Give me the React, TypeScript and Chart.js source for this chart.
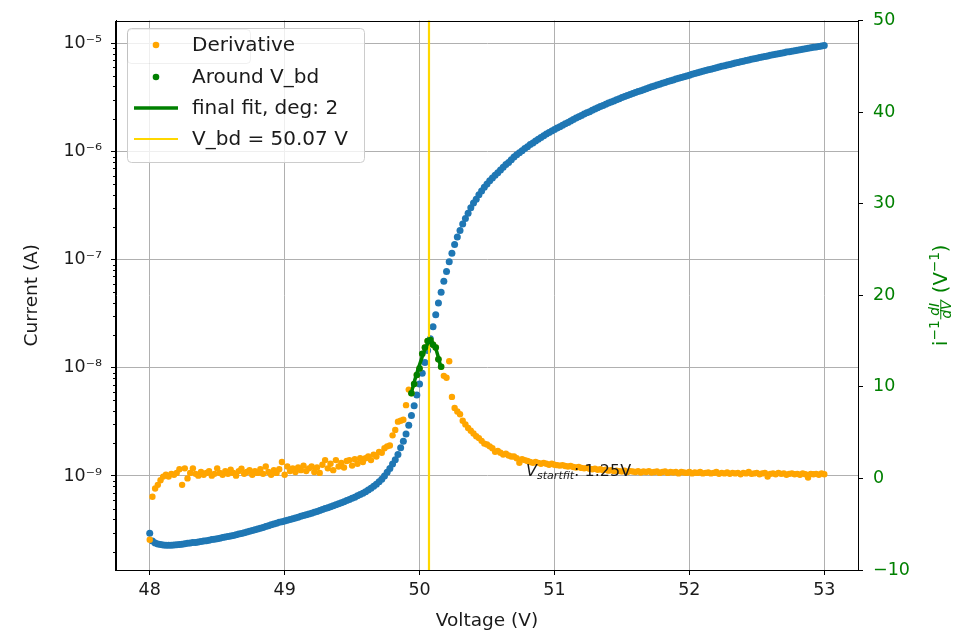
import React, { useEffect, useRef } from 'react';
import { Chart, registerables } from 'chart.js';

Chart.register(...registerables);

// Bias sweep (V), 0.02 V steps
const VOLTAGE = [
  48.00, 48.02, 48.04, 48.06, 48.08, 48.10, 48.12, 48.14, 48.16, 48.18,
  48.20, 48.22, 48.24, 48.26, 48.28, 48.30, 48.32, 48.34, 48.36, 48.38,
  48.40, 48.42, 48.44, 48.46, 48.48, 48.50, 48.52, 48.54, 48.56, 48.58,
  48.60, 48.62, 48.64, 48.66, 48.68, 48.70, 48.72, 48.74, 48.76, 48.78,
  48.80, 48.82, 48.84, 48.86, 48.88, 48.90, 48.92, 48.94, 48.96, 48.98,
  49.00, 49.02, 49.04, 49.06, 49.08, 49.10, 49.12, 49.14, 49.16, 49.18,
  49.20, 49.22, 49.24, 49.26, 49.28, 49.30, 49.32, 49.34, 49.36, 49.38,
  49.40, 49.42, 49.44, 49.46, 49.48, 49.50, 49.52, 49.54, 49.56, 49.58,
  49.60, 49.62, 49.64, 49.66, 49.68, 49.70, 49.72, 49.74, 49.76, 49.78,
  49.80, 49.82, 49.84, 49.86, 49.88, 49.90, 49.92, 49.94, 49.96, 49.98,
  50.00, 50.02, 50.04, 50.06, 50.08, 50.10, 50.12, 50.14, 50.16, 50.18,
  50.20, 50.22, 50.24, 50.26, 50.28, 50.30, 50.32, 50.34, 50.36, 50.38,
  50.40, 50.42, 50.44, 50.46, 50.48, 50.50, 50.52, 50.54, 50.56, 50.58,
  50.60, 50.62, 50.64, 50.66, 50.68, 50.70, 50.72, 50.74, 50.76, 50.78,
  50.80, 50.82, 50.84, 50.86, 50.88, 50.90, 50.92, 50.94, 50.96, 50.98,
  51.00, 51.02, 51.04, 51.06, 51.08, 51.10, 51.12, 51.14, 51.16, 51.18,
  51.20, 51.22, 51.24, 51.26, 51.28, 51.30, 51.32, 51.34, 51.36, 51.38,
  51.40, 51.42, 51.44, 51.46, 51.48, 51.50, 51.52, 51.54, 51.56, 51.58,
  51.60, 51.62, 51.64, 51.66, 51.68, 51.70, 51.72, 51.74, 51.76, 51.78,
  51.80, 51.82, 51.84, 51.86, 51.88, 51.90, 51.92, 51.94, 51.96, 51.98,
  52.00, 52.02, 52.04, 52.06, 52.08, 52.10, 52.12, 52.14, 52.16, 52.18,
  52.20, 52.22, 52.24, 52.26, 52.28, 52.30, 52.32, 52.34, 52.36, 52.38,
  52.40, 52.42, 52.44, 52.46, 52.48, 52.50, 52.52, 52.54, 52.56, 52.58,
  52.60, 52.62, 52.64, 52.66, 52.68, 52.70, 52.72, 52.74, 52.76, 52.78,
  52.80, 52.82, 52.84, 52.86, 52.88, 52.90, 52.92, 52.94, 52.96, 52.98,
  53.00,
];

// Current (A), left log axis
const CURRENT = [
  2.95e-10, 2.51e-10, 2.40e-10, 2.35e-10, 2.32e-10, 2.30e-10, 2.29e-10, 2.29e-10, 2.29e-10, 2.30e-10,
  2.31e-10, 2.32e-10, 2.34e-10, 2.36e-10, 2.38e-10, 2.40e-10, 2.42e-10, 2.43e-10, 2.45e-10, 2.48e-10,
  2.50e-10, 2.52e-10, 2.55e-10, 2.58e-10, 2.60e-10, 2.63e-10, 2.66e-10, 2.69e-10, 2.72e-10, 2.75e-10,
  2.79e-10, 2.82e-10, 2.86e-10, 2.90e-10, 2.94e-10, 2.98e-10, 3.03e-10, 3.08e-10, 3.13e-10, 3.18e-10,
  3.23e-10, 3.28e-10, 3.34e-10, 3.40e-10, 3.47e-10, 3.53e-10, 3.60e-10, 3.66e-10, 3.73e-10, 3.77e-10,
  3.84e-10, 3.90e-10, 3.96e-10, 4.03e-10, 4.09e-10, 4.16e-10, 4.23e-10, 4.30e-10, 4.37e-10, 4.45e-10,
  4.53e-10, 4.61e-10, 4.70e-10, 4.79e-10, 4.89e-10, 4.99e-10, 5.09e-10, 5.20e-10, 5.31e-10, 5.42e-10,
  5.53e-10, 5.65e-10, 5.78e-10, 5.92e-10, 6.05e-10, 6.21e-10, 6.37e-10, 6.55e-10, 6.73e-10, 6.93e-10,
  7.16e-10, 7.41e-10, 7.69e-10, 8.02e-10, 8.39e-10, 8.83e-10, 9.33e-10, 1.00e-9, 1.08e-9, 1.17e-9,
  1.29e-9, 1.41e-9, 1.58e-9, 1.82e-9, 2.09e-9, 2.45e-9, 2.95e-9, 3.63e-9, 4.47e-9, 5.62e-9,
  7.08e-9, 8.91e-9, 1.12e-8, 1.45e-8, 1.86e-8, 2.40e-8, 3.09e-8, 3.98e-8, 5.01e-8, 6.31e-8,
  7.76e-8, 9.55e-8, 1.15e-7, 1.38e-7, 1.62e-7, 1.86e-7, 2.14e-7, 2.40e-7, 2.69e-7, 3.02e-7,
  3.35e-7, 3.63e-7, 3.98e-7, 4.32e-7, 4.68e-7, 5.01e-7, 5.37e-7, 5.69e-7, 6.03e-7, 6.38e-7,
  6.76e-7, 7.16e-7, 7.59e-7, 7.94e-7, 8.41e-7, 8.91e-7, 9.33e-7, 9.77e-7, 1.02e-6, 1.07e-6,
  1.11e-6, 1.16e-6, 1.20e-6, 1.25e-6, 1.30e-6, 1.35e-6, 1.40e-6, 1.45e-6, 1.50e-6, 1.55e-6,
  1.60e-6, 1.65e-6, 1.70e-6, 1.75e-6, 1.81e-6, 1.86e-6, 1.92e-6, 1.98e-6, 2.04e-6, 2.10e-6,
  2.16e-6, 2.22e-6, 2.28e-6, 2.34e-6, 2.41e-6, 2.48e-6, 2.54e-6, 2.61e-6, 2.67e-6, 2.74e-6,
  2.81e-6, 2.88e-6, 2.94e-6, 3.01e-6, 3.08e-6, 3.16e-6, 3.23e-6, 3.30e-6, 3.37e-6, 3.44e-6,
  3.52e-6, 3.59e-6, 3.66e-6, 3.74e-6, 3.82e-6, 3.90e-6, 3.97e-6, 4.05e-6, 4.12e-6, 4.20e-6,
  4.28e-6, 4.36e-6, 4.44e-6, 4.52e-6, 4.60e-6, 4.68e-6, 4.76e-6, 4.84e-6, 4.93e-6, 5.01e-6,
  5.09e-6, 5.18e-6, 5.26e-6, 5.35e-6, 5.43e-6, 5.52e-6, 5.61e-6, 5.70e-6, 5.78e-6, 5.87e-6,
  5.96e-6, 6.05e-6, 6.14e-6, 6.22e-6, 6.31e-6, 6.40e-6, 6.49e-6, 6.58e-6, 6.67e-6, 6.76e-6,
  6.85e-6, 6.95e-6, 7.03e-6, 7.13e-6, 7.21e-6, 7.31e-6, 7.40e-6, 7.50e-6, 7.59e-6, 7.67e-6,
  7.76e-6, 7.85e-6, 7.94e-6, 8.04e-6, 8.13e-6, 8.22e-6, 8.32e-6, 8.39e-6, 8.49e-6, 8.57e-6,
  8.67e-6, 8.75e-6, 8.85e-6, 8.93e-6, 9.02e-6, 9.12e-6, 9.20e-6, 9.29e-6, 9.38e-6, 9.46e-6,
  9.55e-6,
];

// i^-1 dI/dV (1/V), right axis
const DERIVATIVE = [
  -6.7, -2.0, -1.1, -0.7, -0.2, 0.2, 0.4, 0.2, 0.5, 0.4,
  0.6, 1.0, -0.7, 1.1, 0.0, 0.6, 1.1, 0.5, 0.3, 0.7,
  0.4, 0.6, 0.8, 0.3, 0.5, 1.1, 0.6, 0.4, 0.8, 0.5,
  0.95, 0.6, 0.3, 0.8, 1.05, 0.5, 0.7, 0.9, 0.4, 0.8,
  0.6, 1.0, 0.5, 1.3, 0.7, 0.4, 0.9, 0.6, 1.0, 1.8,
  0.4, 1.3, 0.8, 1.1, 0.7, 1.2, 0.9, 1.4, 0.8, 1.1,
  1.3, 0.7, 1.2, 0.6, 1.5, 2.0, 1.1, 1.6, 0.9, 2.0,
  1.3, 1.7, 1.2, 1.9, 2.0, 1.4, 2.1, 1.6, 2.2, 1.8,
  2.2, 2.4, 2.0, 2.6, 2.4, 2.9, 2.8, 3.3, 3.5, 3.6,
  4.7, 5.3, 6.2, 6.3, 6.4, 8.0, 9.7, 9.3, 10.3, 11.3,
  12.0, 13.6, 14.3, 15.0, 15.1, 14.6, 14.3, 13.0, 12.2, 11.2,
  11.0, 12.8, 8.9, 7.7, 7.3, 7.0, 6.3, 5.9, 5.5, 5.2,
  4.9, 4.6, 4.4, 4.1, 3.8, 3.7, 3.5, 3.3, 2.9, 3.0,
  2.8, 2.6, 2.7, 2.5, 2.4, 2.4, 2.2, 1.7, 2.1, 2.0,
  1.9, 1.8, 1.7, 1.8, 1.7, 1.6, 1.7, 1.6, 1.5, 1.6,
  1.5, 1.45, 1.4, 1.45, 1.35, 1.3, 1.35, 1.25, 1.2, 1.25,
  1.15, 1.1, 1.15, 1.05, 1.0, 1.05, 0.95, 1.0, 0.9, 0.95,
  0.85, 0.9, 0.8, 0.85, 0.8, 0.75, 0.85, 0.7, 0.8, 0.75,
  0.7, 0.8, 0.65, 0.75, 0.7, 0.8, 0.65, 0.7, 0.75, 0.6,
  0.7, 0.75, 0.6, 0.7, 0.65, 0.7, 0.55, 0.7, 0.65, 0.6,
  0.7, 0.55, 0.65, 0.6, 0.7, 0.55, 0.6, 0.65, 0.55, 0.6,
  0.7, 0.5, 0.6, 0.55, 0.65, 0.5, 0.6, 0.55, 0.6, 0.45,
  0.6, 0.55, 0.7, 0.5, 0.55, 0.6, 0.45, 0.55, 0.6, 0.2,
  0.5, 0.55, 0.45, 0.6, 0.5, 0.55, 0.4, 0.5, 0.55, 0.45,
  0.5, 0.4, 0.55, 0.45, 0.1, 0.5, 0.45, 0.5, 0.4, 0.55,
  0.45,
];

// Points around the breakdown voltage
const BD_VOLTAGE = [49.94, 49.96, 49.98, 50.00, 50.02, 50.04, 50.06, 50.08, 50.10, 50.12, 50.14, 50.16];
const BD_DERIV = [9.3, 10.3, 11.3, 12.0, 13.6, 14.3, 15.0, 15.1, 14.6, 14.3, 13.0, 12.2];

// Final fit (deg 2)
const FIT_VOLTAGE = [49.94, 49.96, 49.98, 50.00, 50.02, 50.04, 50.06, 50.08, 50.10, 50.12, 50.14, 50.16];
const FIT_VALUES = [9.4, 10.5, 11.5, 12.4, 13.3, 14.1, 14.7, 15.0, 14.8, 14.2, 13.2, 12.0];

const V_BD = 50.07;
const V_BD_SPAN = [-100, 100];

const X_TICKS = [48, 49, 50, 51, 52, 53];
const LOG_TICKS = [1e-9, 1e-8, 1e-7, 1e-6, 1e-5];
const LOG_TICK_LABELS = ['10⁻⁹', '10⁻⁸', '10⁻⁷', '10⁻⁶', '10⁻⁵'];
const RIGHT_TICKS = [-10, 0, 10, 20, 30, 40, 50];

const X_RANGE = [47.75, 53.25];
const Y_RANGE = [1.35e-10, 1.63e-5];
const Y2_RANGE = [-10, 50];

const ANNOT_X = 50.79;
const ANNOT_Y = 1e-9;
const ANNOT_VALUE = '1.25V';

const LEGEND_LABELS = ['Derivative', 'Around V_bd', 'final fit, deg: 2', 'V_bd = 50.07 V'];

const BLUE = '#1f77b4';
const ORANGE = '#ffa500';
const GREEN = '#008000';
const GOLD = '#ffd700';
const FONT = '"DejaVu Sans", sans-serif';
const TEXT = '#1a1a1a';

function drawRightTitle(ctx: CanvasRenderingContext2D, cx: number, cy: number) {
  const F = 19.5;
  const S = F * 0.7;
  ctx.save();
  ctx.translate(cx, cy);
  ctx.rotate(-Math.PI / 2);
  ctx.fillStyle = GREEN;
  ctx.strokeStyle = GREEN;
  ctx.textBaseline = 'alphabetic';
  ctx.textAlign = 'left';
  const main = `${F}px ${FONT}`;
  const small = `${S}px ${FONT}`;
  const smallIt = `italic ${S}px ${FONT}`;
  ctx.font = main;
  const wi = ctx.measureText('i').width;
  const wOpen = ctx.measureText(' (V').width;
  const wClose = ctx.measureText(')').width;
  ctx.font = small;
  const wSup = ctx.measureText('−1').width;
  ctx.font = smallIt;
  const wNum = ctx.measureText('dI').width;
  const wDen = ctx.measureText('dV').width;
  const wFrac = Math.max(wNum, wDen) + 2;
  const total = wi + wSup + 1 + wFrac + wOpen + wSup + wClose;
  let x = -total / 2;
  const base = F * 0.36;
  ctx.font = main;
  ctx.fillText('i', x, base);
  x += wi;
  ctx.font = small;
  ctx.fillText('−1', x, base - F * 0.42);
  x += wSup + 1;
  const barY = base - F * 0.32;
  ctx.font = smallIt;
  ctx.fillText('dI', x + (wFrac - wNum) / 2, barY - 2);
  ctx.fillText('dV', x + (wFrac - wDen) / 2, barY + S * 0.78);
  ctx.lineWidth = 1;
  ctx.beginPath();
  ctx.moveTo(x, barY);
  ctx.lineTo(x + wFrac, barY);
  ctx.stroke();
  x += wFrac;
  ctx.font = main;
  ctx.fillText(' (V', x, base);
  x += wOpen;
  ctx.font = small;
  ctx.fillText('−1', x, base - F * 0.42);
  x += wSup;
  ctx.font = main;
  ctx.fillText(')', x, base);
  ctx.restore();
}

const decorPlugin = {
  id: 'decor',
  afterDraw(chart: any) {
    const ctx: CanvasRenderingContext2D = chart.ctx;
    const area = chart.chartArea;
    const xs = chart.scales.x;
    const ys = chart.scales.y;

    // minor log ticks
    ctx.save();
    ctx.strokeStyle = '#000';
    ctx.lineWidth = 1;
    for (let e = -11; e <= -4; e++) {
      for (let m = 2; m <= 9; m++) {
        const v = m * Math.pow(10, e);
        if (v <= ys.min || v >= ys.max) continue;
        const y = Math.round(ys.getPixelForValue(v)) + 0.5;
        ctx.beginPath();
        ctx.moveTo(area.left - 3, y);
        ctx.lineTo(area.left, y);
        ctx.stroke();
      }
    }
    // frame
    ctx.strokeStyle = '#000';
    ctx.lineWidth = 1;
    ctx.strokeRect(Math.round(area.left) - 0.5, Math.round(area.top) + 0.5,
      Math.round(area.right - area.left) + 1, Math.round(area.bottom - area.top) - 1);
    ctx.restore();

    // axis titles
    ctx.save();
    ctx.fillStyle = TEXT;
    ctx.font = `18.5px ${FONT}`;
    ctx.textAlign = 'center';
    ctx.textBaseline = 'middle';
    ctx.fillText('Voltage (V)', (area.left + area.right) / 2, 621);
    ctx.translate(32, (area.top + area.bottom) / 2);
    ctx.rotate(-Math.PI / 2);
    ctx.fillText('Current (A)', 0, 0);
    ctx.restore();

    drawRightTitle(ctx, 940, (area.top + area.bottom) / 2);

    // annotation
    ctx.save();
    ctx.fillStyle = TEXT;
    ctx.textBaseline = 'alphabetic';
    ctx.textAlign = 'left';
    let ax = xs.getPixelForValue(ANNOT_X);
    const ay = ys.getPixelForValue(ANNOT_Y);
    ctx.font = `italic 16px ${FONT}`;
    ctx.fillText('V', ax, ay);
    ax += ctx.measureText('V').width;
    ctx.font = `italic 11px ${FONT}`;
    ctx.fillText('startfit', ax, ay + 3);
    ax += ctx.measureText('startfit').width;
    ctx.font = `16px ${FONT}`;
    ctx.fillText(': ' + ANNOT_VALUE, ax, ay);
    ctx.restore();

    // legend
    ctx.save();
    const lx = 127, ly = 28, lw = 237, lh = 134, r = 4;
    const rr = (x0: number, y0: number, w: number, h: number) => {
      ctx.beginPath();
      ctx.moveTo(x0 + r, y0);
      ctx.lineTo(x0 + w - r, y0);
      ctx.quadraticCurveTo(x0 + w, y0, x0 + w, y0 + r);
      ctx.lineTo(x0 + w, y0 + h - r);
      ctx.quadraticCurveTo(x0 + w, y0 + h, x0 + w - r, y0 + h);
      ctx.lineTo(x0 + r, y0 + h);
      ctx.quadraticCurveTo(x0, y0 + h, x0, y0 + h - r);
      ctx.lineTo(x0, y0 + r);
      ctx.quadraticCurveTo(x0, y0, x0 + r, y0);
      ctx.closePath();
    };
    rr(lx + 0.5, ly + 0.5, lw, lh);
    ctx.fillStyle = 'rgba(255,255,255,0.8)';
    ctx.fill();
    ctx.strokeStyle = '#cccccc';
    ctx.lineWidth = 1;
    ctx.stroke();
    rr(lx + 0.5, ly + 1.5, 123, 34);
    ctx.strokeStyle = 'rgba(0,0,0,0.06)';
    ctx.stroke();

    const rows = [45, 77, 108, 139];
    const tx = 192;
    ctx.fillStyle = ORANGE;
    ctx.beginPath();
    ctx.arc(156, rows[0], 3.3, 0, Math.PI * 2);
    ctx.fill();
    ctx.fillStyle = GREEN;
    ctx.beginPath();
    ctx.arc(156, rows[1], 3.3, 0, Math.PI * 2);
    ctx.fill();
    ctx.strokeStyle = GREEN;
    ctx.lineWidth = 3.5;
    ctx.beginPath();
    ctx.moveTo(134, rows[2]);
    ctx.lineTo(178, rows[2]);
    ctx.stroke();
    ctx.strokeStyle = GOLD;
    ctx.lineWidth = 2;
    ctx.beginPath();
    ctx.moveTo(134, rows[3]);
    ctx.lineTo(178, rows[3]);
    ctx.stroke();
    ctx.fillStyle = TEXT;
    ctx.font = `20px ${FONT}`;
    ctx.textBaseline = 'middle';
    ctx.textAlign = 'left';
    LEGEND_LABELS.forEach((t, i) => ctx.fillText(t, tx, rows[i] + 1));
    ctx.restore();
  },
};

export default function App() {
  const ref = useRef<HTMLCanvasElement | null>(null);
  useEffect(() => {
    if (!ref.current) return;
    const tickFont = { family: FONT, size: 17.5 };
    const chart = new Chart(ref.current, {
      type: 'scatter',
      data: {
        datasets: [
          {
            label: 'final fit, deg: 2',
            data: FIT_VOLTAGE.map((v, i) => ({ x: v, y: FIT_VALUES[i] })),
            yAxisID: 'y2',
            showLine: true,
            borderColor: GREEN,
            borderWidth: 3.5,
            pointRadius: 0,
            order: 1,
          },
          {
            label: 'Around V_bd',
            data: BD_VOLTAGE.map((v, i) => ({ x: v, y: BD_DERIV[i] })),
            yAxisID: 'y2',
            backgroundColor: GREEN,
            pointRadius: 3.3,
            pointBorderWidth: 0,
            order: 2,
          },
          {
            label: 'V_bd = 50.07 V',
            data: V_BD_SPAN.map((y) => ({ x: V_BD, y })),
            yAxisID: 'y2',
            showLine: true,
            borderColor: GOLD,
            borderWidth: 2.2,
            pointRadius: 0,
            order: 3,
          },
          {
            label: 'Derivative',
            data: VOLTAGE.map((v, i) => ({ x: v, y: DERIVATIVE[i] })),
            yAxisID: 'y2',
            backgroundColor: ORANGE,
            pointRadius: 3.2,
            pointBorderWidth: 0,
            order: 4,
          },
          {
            label: 'Current',
            data: VOLTAGE.map((v, i) => ({ x: v, y: CURRENT[i] })),
            yAxisID: 'y',
            backgroundColor: BLUE,
            pointRadius: 3.5,
            pointBorderWidth: 0,
            order: 5,
          },
        ],
      },
      options: {
        responsive: false,
        animation: false,
        events: [],
        layout: { padding: { top: 17, left: 0, right: 0, bottom: 0 } },
        plugins: { legend: { display: false }, tooltip: { enabled: false } },
        scales: {
          x: {
            type: 'linear',
            position: 'bottom',
            min: X_RANGE[0],
            max: X_RANGE[1],
            afterBuildTicks: (s: any) => { s.ticks = X_TICKS.map((v) => ({ value: v })); },
            afterFit: (s: any) => { s.height = 63; },
            ticks: { font: tickFont, color: TEXT, padding: 5, maxRotation: 0, autoSkip: false,
              callback: (v: any) => String(v) },
            grid: { color: '#b0b0b0', lineWidth: 1, tickColor: '#000', tickLength: 5 },
            border: { color: '#000', width: 1 },
          },
          y: {
            type: 'logarithmic',
            position: 'left',
            min: Y_RANGE[0],
            max: Y_RANGE[1],
            afterBuildTicks: (s: any) => { s.ticks = LOG_TICKS.map((v) => ({ value: v })); },
            afterFit: (s: any) => { s.width = 116; },
            ticks: { font: tickFont, color: TEXT, padding: 9, autoSkip: false,
              callback: (_v: any, i: number) => LOG_TICK_LABELS[i] },
            grid: { color: '#b0b0b0', lineWidth: 1, tickColor: '#000', tickLength: 5 },
            border: { color: '#000', width: 1 },
          },
          y2: {
            type: 'linear',
            position: 'right',
            min: Y2_RANGE[0],
            max: Y2_RANGE[1],
            afterBuildTicks: (s: any) => { s.ticks = RIGHT_TICKS.map((v) => ({ value: v })); },
            afterFit: (s: any) => { s.width = 102; },
            ticks: { font: tickFont, color: GREEN, padding: 10, autoSkip: false,
              callback: (v: any) => (v < 0 ? '−' + Math.abs(v) : String(v)) },
            grid: { drawOnChartArea: false, tickColor: '#000', tickLength: 5 },
            border: { color: '#000', width: 1 },
          },
        },
      } as any,
      plugins: [decorPlugin],
    });
    return () => chart.destroy();
  }, []);
  return (
    <div style={{ position: 'fixed', left: 0, top: 0, width: 960, height: 633, background: '#fff' }}>
      <canvas ref={ref} width={960} height={633} />
    </div>
  );
}
